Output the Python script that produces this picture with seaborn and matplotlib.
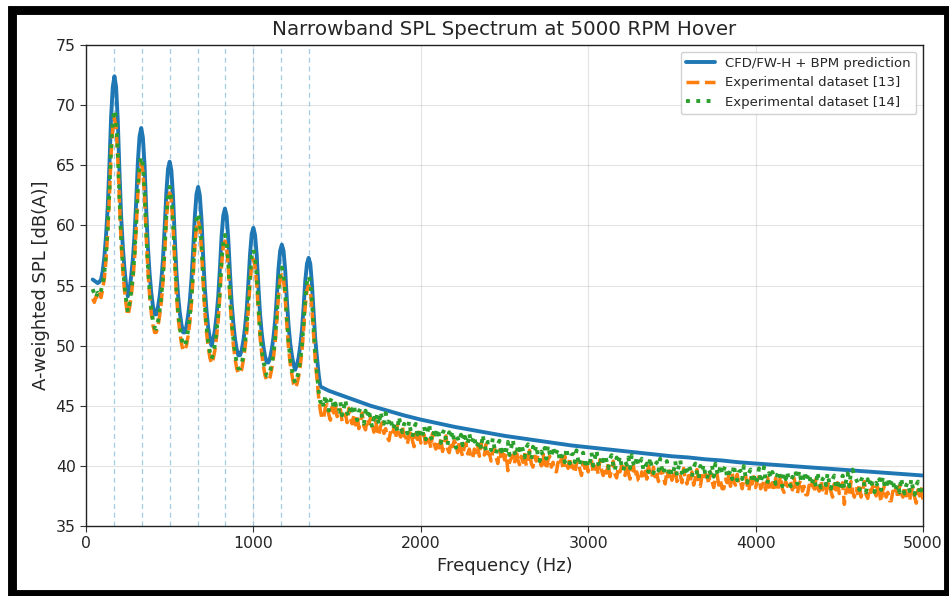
import numpy as np
import pandas as pd
import matplotlib
matplotlib.use("Agg")
import matplotlib.pyplot as plt
import seaborn as sns
from matplotlib.patches import Rectangle

# ---------------- data ----------------
# frequency bins (Hz)
freq_low = list(range(40, 1410, 10))          # 40 .. 1400 Hz, 10 Hz bins
freq_tail_exp = list(range(1410, 5010, 10))   # 1410 .. 5000 Hz, 10 Hz bins
freq_tail_pred = [1450, 1500, 1600, 1700, 1800, 1900, 2000, 2100, 2200, 2300, 2400,
                  2500, 2600, 2700, 2800, 2900, 3000, 3100, 3200, 3300, 3400, 3500,
                  3600, 3700, 3800, 3900, 4000, 4100, 4200, 4300, 4400, 4500, 4600,
                  4700, 4800, 4900, 5000]

# blade passing frequency harmonics (Hz)
bpf_harmonics = [166.7, 333.3, 500.0, 666.7, 833.3, 1000.0, 1166.7, 1333.3]

pred_low = [55.5, 55.4, 55.3, 55.2, 55.3, 55.5, 56.2, 57.4, 59.2, 61.6,
            65.0, 69.0, 71.5, 72.4, 71.5, 68.7, 64.5, 60.8, 58.2, 56.4,
            55.0, 54.1, 54.6, 55.8, 57.2, 59.2, 62.0, 65.3, 67.4, 68.1,
            67.3, 65.0, 61.3, 58.2, 56.0, 54.4, 53.3, 52.6, 52.6, 53.2,
            54.1, 55.4, 57.2, 59.8, 62.7, 64.7, 65.3, 64.6, 62.4, 59.1,
            56.2, 54.2, 52.8, 51.8, 51.1, 51.1, 51.6, 52.5, 53.7, 55.5,
            57.9, 60.7, 62.6, 63.2, 62.5, 60.5, 57.4, 54.8, 52.9, 51.5,
            50.6, 50.0, 50.5, 51.3, 52.5, 54.1, 56.4, 59.1, 60.8, 61.4,
            60.8, 58.9, 56.1, 53.6, 51.9, 50.6, 49.7, 49.2, 49.2, 49.6,
            50.4, 51.5, 53.0, 55.2, 57.6, 59.3, 59.8, 59.2, 57.5, 54.9,
            52.6, 51.0, 49.9, 49.1, 48.6, 48.6, 49.0, 49.7, 50.7, 52.1,
            54.1, 56.4, 57.9, 58.4, 57.9, 56.3, 53.8, 51.7, 50.2, 49.2,
            48.4, 48.0, 48.4, 49.0, 50.0, 51.3, 53.2, 55.4, 56.8, 57.3,
            56.8, 55.1, 52.7, 50.5, 49.0, 47.6, 46.6]
pred_tail = [46.25, 46.0, 45.5, 45.0, 44.6, 44.2, 43.85, 43.55, 43.25, 43.0, 42.75,
             42.5, 42.3, 42.1, 41.9, 41.7, 41.55, 41.4, 41.25, 41.1, 40.95, 40.8,
             40.7, 40.55, 40.45, 40.3, 40.2, 40.1, 40.0, 39.9, 39.8, 39.7, 39.6,
             39.5, 39.4, 39.3, 39.2]

exp13_low = [53.9, 53.6, 54.1, 53.8, 54.3, 54.0, 54.7, 55.6, 57.2, 59.4,
             62.4, 65.9, 68.1, 68.9, 68.1, 65.6, 61.9, 58.6, 56.2, 54.6,
             53.4, 52.5, 53.1, 54.1, 55.4, 57.2, 59.7, 62.7, 64.6, 65.2,
             64.5, 62.4, 59.0, 56.2, 54.2, 52.7, 51.7, 51.1, 51.1, 51.6,
             52.5, 53.6, 55.3, 57.7, 60.3, 62.2, 62.7, 62.1, 60.0, 57.0,
             54.3, 52.4, 51.2, 50.2, 49.6, 49.6, 50.0, 50.8, 51.9, 53.5,
             55.7, 58.2, 59.9, 60.4, 59.8, 58.0, 55.2, 52.8, 51.1, 49.9,
             49.0, 48.5, 48.9, 49.6, 50.7, 52.1, 54.2, 56.7, 58.2, 58.7,
             58.2, 56.5, 53.9, 51.7, 50.1, 49.0, 48.1, 47.7, 47.7, 48.0,
             48.8, 49.8, 51.1, 53.0, 55.2, 56.7, 57.2, 56.6, 55.1, 52.8,
             50.7, 49.3, 48.3, 47.5, 47.1, 47.1, 47.4, 48.1, 49.0, 50.2,
             52.0, 54.1, 55.5, 55.9, 55.5, 54.0, 51.7, 49.8, 48.5, 47.6,
             46.8, 46.5, 46.8, 47.4, 48.3, 49.5, 51.3, 53.3, 54.6, 55.0,
             54.6, 53.0, 50.8, 48.7, 47.2, 45.7, 44.6]
exp14_low = [54.7, 54.3, 54.0, 54.4, 54.2, 54.6, 55.1, 56.1, 57.7, 59.9,
             62.9, 66.5, 68.8, 69.6, 68.9, 66.2, 62.4, 59.0, 56.7, 55.1,
             53.8, 52.8, 53.5, 54.5, 55.8, 57.6, 60.2, 63.2, 65.1, 65.7,
             65.0, 62.9, 59.5, 56.6, 54.6, 53.1, 52.1, 51.5, 51.4, 52.0,
             52.9, 54.1, 55.7, 58.1, 60.8, 62.6, 63.2, 62.5, 60.5, 57.4,
             54.7, 52.9, 51.6, 50.7, 50.0, 50.0, 50.4, 51.3, 52.4, 54.0,
             56.2, 58.7, 60.5, 61.0, 60.4, 58.5, 55.7, 53.3, 51.6, 50.3,
             49.5, 48.9, 49.3, 50.1, 51.2, 52.6, 54.7, 57.1, 58.7, 59.2,
             58.7, 56.9, 54.4, 52.1, 50.6, 49.4, 48.6, 48.1, 48.1, 48.5,
             49.2, 50.2, 51.6, 53.7, 55.9, 57.5, 58.0, 57.4, 55.8, 53.4,
             51.2, 49.7, 48.7, 48.0, 47.5, 47.5, 47.9, 48.5, 49.4, 50.7,
             52.6, 54.7, 56.0, 56.5, 56.0, 54.6, 52.3, 50.3, 48.9, 48.0,
             47.3, 46.9, 47.3, 47.8, 48.8, 50.0, 51.8, 54.0, 55.3, 55.8,
             55.3, 53.7, 51.4, 49.2, 47.7, 46.2, 45.3]

exp13_tail = [43.9, 44.0, 44.9, 45.1, 44.3, 43.8, 44.9, 44.4, 45.0, 44.1,
              44.4, 44.7, 43.7, 44.0, 44.3, 43.6, 44.8, 43.9, 43.5, 44.2,
              43.4, 44.2, 43.1, 43.7, 44.4, 43.3, 43.0, 43.9, 43.5, 44.0,
              43.5, 42.8, 43.8, 43.0, 42.5, 43.3, 43.6, 42.7, 43.1, 42.4,
              42.1, 42.9, 42.6, 43.2, 42.3, 43.4, 42.7, 42.4, 43.3, 42.5,
              42.4, 41.8, 42.6, 42.9, 42.1, 41.6, 42.7, 42.2, 42.8, 41.9,
              42.3, 42.6, 41.6, 41.9, 42.2, 41.5, 42.7, 41.8, 41.4, 42.1,
              41.5, 42.3, 41.2, 41.8, 42.5, 41.4, 41.1, 42.0, 41.6, 42.1,
              41.8, 41.1, 42.1, 41.3, 40.8, 41.6, 41.9, 41.0, 41.4, 40.7,
              40.6, 41.4, 41.1, 41.7, 40.8, 41.9, 41.2, 40.9, 41.8, 41.0,
              41.0, 40.4, 41.2, 41.5, 40.7, 40.2, 41.3, 40.8, 41.4, 40.5,
              41.0, 39.6, 40.3, 40.6, 40.9, 40.2, 41.4, 40.5, 40.1, 40.8,
              40.3, 41.1, 40.0, 40.6, 41.3, 40.2, 39.9, 40.8, 40.4, 40.9,
              40.7, 40.0, 41.0, 40.2, 39.7, 40.5, 40.8, 39.9, 40.3, 39.6,
              39.5, 40.3, 40.0, 40.6, 39.7, 40.8, 40.1, 39.8, 40.7, 39.9,
              40.0, 39.4, 40.2, 40.5, 39.7, 39.2, 40.3, 39.8, 40.4, 39.5,
              40.1, 40.4, 39.4, 39.7, 40.0, 39.3, 40.5, 39.6, 39.2, 39.9,
              39.4, 40.2, 39.1, 39.7, 40.4, 39.3, 39.0, 39.9, 39.5, 40.0,
              39.9, 39.2, 40.2, 39.4, 38.9, 39.7, 40.0, 39.1, 39.5, 38.8,
              38.7, 39.5, 39.2, 39.8, 38.9, 40.0, 39.3, 39.0, 39.9, 39.1,
              39.3, 38.7, 39.5, 39.8, 39.0, 38.5, 39.6, 39.1, 39.7, 38.8,
              39.4, 39.7, 38.7, 39.0, 39.3, 38.6, 39.8, 38.9, 38.5, 39.2,
              38.7, 39.5, 38.4, 39.0, 39.7, 38.6, 38.3, 39.2, 38.8, 39.3,
              39.2, 38.5, 39.5, 38.7, 38.2, 39.0, 39.3, 38.4, 38.8, 38.1,
              38.1, 38.9, 38.6, 39.2, 38.3, 39.4, 38.7, 38.4, 39.3, 38.5,
              38.7, 38.1, 38.9, 39.2, 38.4, 37.9, 39.0, 38.5, 39.1, 38.2,
              38.8, 39.1, 38.1, 38.4, 38.7, 38.0, 39.2, 38.3, 37.9, 38.6,
              38.2, 39.0, 37.9, 38.5, 39.2, 38.1, 37.8, 38.7, 38.3, 38.8,
              38.7, 38.0, 39.0, 38.2, 37.7, 38.5, 38.8, 37.9, 38.3, 37.6,
              37.6, 38.4, 38.1, 38.7, 37.8, 38.9, 38.2, 37.9, 38.8, 38.0,
              38.2, 37.6, 38.4, 38.7, 37.9, 37.4, 38.5, 38.0, 38.6, 37.7,
              38.3, 38.6, 36.8, 37.9, 38.2, 37.5, 38.7, 37.8, 37.4, 38.1,
              37.7, 38.5, 37.4, 38.0, 38.7, 37.6, 37.3, 38.2, 37.8, 38.3,
              38.2, 37.5, 38.5, 37.7, 37.0, 38.0, 38.3, 37.4, 37.8, 37.1,
              37.1, 37.9, 37.6, 38.2, 37.3, 38.4, 37.7, 37.4, 38.3, 37.5,
              37.7, 37.1, 37.9, 38.2, 37.4, 36.9, 38.0, 37.5, 38.1, 37.2]
exp14_tail = [45.6, 44.9, 45.9, 45.1, 44.6, 45.4, 45.7, 44.8, 45.2, 44.5,
              44.5, 45.3, 44.2, 44.8, 45.5, 44.4, 44.1, 45.0, 44.6, 45.1,
              44.3, 43.8, 44.5, 44.8, 44.0, 43.5, 44.6, 44.1, 44.7, 43.8,
              43.2, 44.0, 43.7, 44.3, 43.4, 44.5, 43.8, 43.5, 44.4, 43.6,
              43.7, 44.0, 43.0, 43.3, 43.6, 42.9, 44.1, 43.2, 42.8, 43.5,
              43.4, 42.7, 43.7, 42.9, 42.4, 43.2, 43.5, 42.6, 43.0, 42.3,
              42.5, 43.3, 42.2, 42.8, 43.5, 42.4, 42.1, 43.0, 42.6, 43.1,
              42.5, 41.9, 42.7, 43.0, 42.2, 41.7, 42.8, 42.3, 42.9, 42.0,
              41.5, 42.3, 42.0, 42.6, 41.7, 42.8, 42.1, 41.8, 42.7, 41.9,
              42.2, 42.5, 41.5, 41.8, 42.1, 41.4, 42.6, 41.7, 41.3, 42.0,
              42.0, 41.3, 42.3, 41.5, 41.0, 41.8, 42.1, 41.2, 41.6, 40.9,
              41.2, 42.0, 40.9, 41.5, 42.2, 41.1, 40.8, 41.7, 41.3, 41.8,
              41.3, 40.7, 41.5, 41.8, 41.0, 40.5, 41.6, 41.1, 41.7, 40.8,
              40.4, 41.2, 40.9, 41.5, 40.6, 41.7, 41.0, 40.7, 41.6, 40.8,
              41.1, 41.4, 40.4, 40.7, 41.0, 40.3, 41.5, 40.6, 40.2, 40.9,
              41.0, 40.3, 41.3, 40.5, 40.0, 40.8, 41.1, 40.2, 40.6, 39.9,
              40.3, 41.1, 40.0, 40.6, 41.3, 40.2, 39.9, 40.8, 40.4, 40.9,
              40.4, 39.8, 40.6, 40.9, 40.1, 39.6, 40.7, 40.2, 40.8, 39.9,
              39.6, 40.4, 40.1, 40.7, 39.8, 40.9, 40.2, 39.9, 40.8, 40.0,
              40.3, 40.6, 39.6, 39.9, 40.2, 39.5, 40.7, 39.8, 39.4, 40.1,
              40.3, 39.6, 40.6, 39.8, 39.3, 40.1, 40.4, 39.5, 39.9, 39.2,
              39.5, 40.4, 39.2, 39.9, 40.5, 39.4, 39.1, 40.0, 39.6, 40.1,
              39.7, 39.1, 39.9, 40.2, 39.4, 38.9, 40.0, 39.5, 40.1, 39.2,
              38.9, 39.7, 39.4, 40.0, 39.1, 40.2, 39.5, 39.2, 40.1, 39.3,
              39.7, 40.0, 39.0, 39.3, 39.6, 38.9, 40.1, 39.2, 38.8, 39.5,
              39.6, 38.9, 40.0, 39.1, 38.6, 39.4, 39.7, 38.8, 39.2, 38.5,
              38.9, 39.8, 38.6, 39.2, 39.9, 38.8, 38.5, 39.4, 39.0, 39.5,
              39.1, 38.5, 39.3, 39.6, 38.8, 38.3, 39.4, 38.9, 39.5, 38.6,
              38.3, 39.1, 38.9, 39.4, 38.5, 39.6, 38.9, 38.6, 39.5, 38.7,
              39.1, 39.4, 38.4, 38.7, 39.0, 38.3, 39.5, 38.6, 38.2, 38.9,
              39.1, 38.4, 39.4, 38.6, 38.1, 38.9, 39.2, 38.3, 38.7, 38.0,
              38.4, 39.2, 38.1, 38.7, 39.4, 38.3, 39.5, 39.7, 39.2, 38.9,
              38.6, 38.0, 38.8, 39.1, 38.3, 37.8, 38.9, 38.4, 39.0, 38.1,
              37.8, 38.6, 38.3, 38.9, 38.0, 39.1, 38.4, 38.1, 39.0, 38.2,
              38.6, 38.9, 37.9, 38.2, 38.5, 37.8, 39.0, 38.1, 37.7, 38.4,
              38.6, 37.9, 38.9, 38.1, 37.6, 38.4, 38.7, 37.8, 38.2, 37.5]

series_names = ["CFD/FW-H + BPM prediction", "Experimental dataset [13]", "Experimental dataset [14]"]

df_pred = pd.DataFrame({"f": freq_low + freq_tail_pred, "spl": pred_low + pred_tail})
df_e13 = pd.DataFrame({"f": freq_low + freq_tail_exp, "spl": exp13_low + exp13_tail})
df_e14 = pd.DataFrame({"f": freq_low + freq_tail_exp, "spl": exp14_low + exp14_tail})

# ---------------- plot ----------------
sns.set_style("ticks")
plt.rcParams["font.family"] = ["DejaVu Sans"]

fig = plt.figure(figsize=(9.49, 5.96), dpi=100)
ax = fig.add_axes([0.0906, 0.1174, 0.882, 0.8071])

sns.lineplot(data=df_pred, x="f", y="spl", ax=ax, color="#1f77b4", lw=2.8,
             label=series_names[0], sort=False, estimator=None, zorder=3)
sns.lineplot(data=df_e13, x="f", y="spl", ax=ax, color="#ff7f0e", lw=2.5,
             linestyle="--", label=series_names[1], sort=False, estimator=None, zorder=4)
sns.lineplot(data=df_e14, x="f", y="spl", ax=ax, color="#2ca02c", lw=2.8,
             linestyle=":", label=series_names[2], sort=False, estimator=None, zorder=5)

for h in bpf_harmonics:
    ax.axvline(h, color="#8cc0e0", lw=0.9, ls=(0, (4, 3)), alpha=0.8, zorder=1)

ax.set_xlim(0, 5000)
ax.set_ylim(35, 75)
ax.set_xticks([0, 1000, 2000, 3000, 4000, 5000])
ax.set_yticks([35, 40, 45, 50, 55, 60, 65, 70, 75])
ax.tick_params(labelsize=11.3, direction="out", length=4, color="#333333")
ax.grid(True, color="#b0b0b0", alpha=0.35, lw=0.8)
for s in ax.spines.values():
    s.set_visible(True)
    s.set_color("#222222")
    s.set_linewidth(1.0)

ax.set_xlabel("Frequency (Hz)", fontsize=13)
ax.set_ylabel("A-weighted SPL [dB(A)]", fontsize=13)
ax.set_title("Narrowband SPL Spectrum at 5000 RPM Hover", fontsize=14.3, pad=7)

leg = ax.legend(loc="upper right", fontsize=9.5, frameon=True, framealpha=0.9,
                edgecolor="#cccccc", handlelength=2.2)

# dark screenshot frame
fig.patches.append(Rectangle((0.0130, 0.0040), 0.9860, 0.9800, transform=fig.transFigure,
                             fill=False, edgecolor="black", lw=6.4, zorder=10))

fig.savefig("out.png", dpi=100, facecolor="white")
